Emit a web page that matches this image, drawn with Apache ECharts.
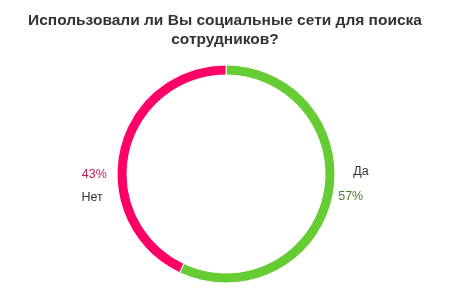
<!DOCTYPE html>
<html><head><meta charset="utf-8">
<script src="https://cdn.jsdelivr.net/npm/echarts@6/dist/echarts.min.js"></script>
<style>html,body{margin:0;padding:0;background:#fff}#c{width:450px;height:300px}</style>
</head><body><div id="c"></div>
<script>
const categories = ['Да', 'Нет'];
const values = [57, 43];
const colors = ['#66cc33', '#ff0066'];
const labelColors = ['#4b7f2a', '#c2185b'];
const titleText = 'Использовали ли Вы социальные сети для поиска\nсотрудников?';

const chart = echarts.init(document.getElementById('c'));
chart.setOption({
  animation: false,
  title: {
    text: titleText, left: 'center', top: 6,
    textStyle: {fontFamily: 'Liberation Sans', fontSize: 15.5, fontWeight: 'bold', color: '#333', lineHeight: 19}
  },
  series: [{
    type: 'pie',
    center: [226, 174],
    radius: [99, 109],
    startAngle: 90,
    clockwise: true,
    silent: true,
    itemStyle: {borderColor: '#fff', borderWidth: 1},
    labelLine: {show: false, length: 8, length2: 0},
    labelLayout: function (p) {
      return p.dataIndex === 0 ? {dx: -7, dy: -15} : {dy: 38};
    },
    data: categories.map((c, i) => ({
      name: c, value: values[i],
      itemStyle: {color: colors[i]},
      label: {
        formatter: i === 0 ? '{n|{b}}\n{p|{d}%}' : '{p|{d}%}\n{n|{b}}',
        rich: {
          n: {color: '#333', fontSize: 12.5, fontFamily: 'Liberation Sans', lineHeight: i === 0 ? 25 : 23,
              padding: i === 0 ? [0, 0, 0, 15] : [0, 4, 0, 0]},
          p: {color: labelColors[i], fontSize: 12.5, fontFamily: 'Liberation Sans', lineHeight: i === 0 ? 25 : 23}
        }
      }
    })),
    label: {show: true, position: 'outside'}
  }]
});
</script></body></html>
